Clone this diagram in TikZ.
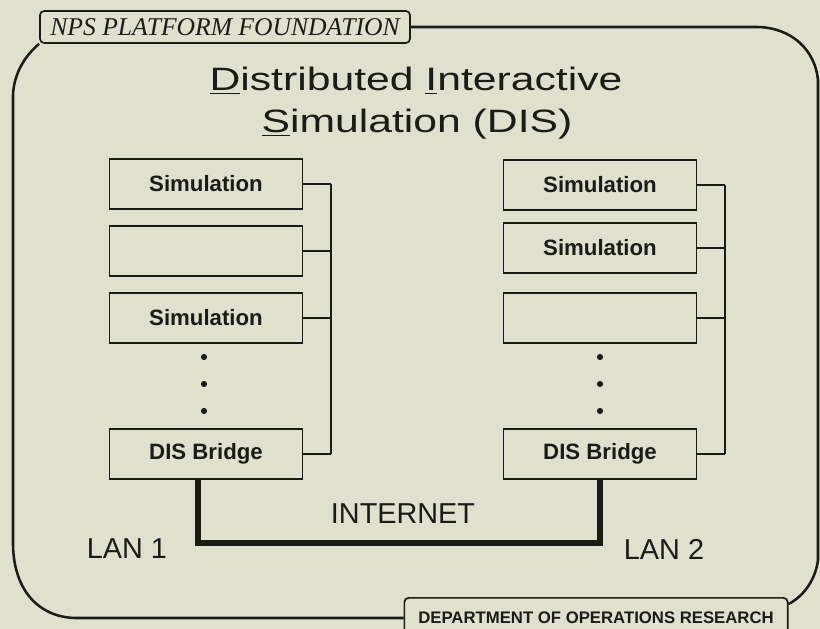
\documentclass[tikz,border=0pt]{standalone}
\usepackage{fontspec}
\setmainfont{Liberation Sans}
\newfontfamily\titlefont[FakeStretch=1.32]{Liberation Sans}
\newfontfamily\npsfont{Liberation Serif}
\definecolor{paper}{RGB}{224,224,207}
\definecolor{ink}{RGB}{28,28,22}
\tikzset{
  simbox/.style={draw, line width=1.2pt, minimum width=4.83cm, minimum height=1.25cm,
    inner sep=0pt, font=\fontsize{15.8}{18}\selectfont\bfseries},
  tag/.style={draw, line width=1.2pt, rounded corners=3pt, inner sep=0pt},
  wire/.style={line width=1.2pt},
  frame/.style={line width=1.8pt},
  net/.style={line width=3.8pt},
  big/.style={font=\fontsize{20.5}{24}\selectfont, anchor=base}
}
\begin{document}
\begin{tikzpicture}[x=0.025cm, y=-0.025cm, color=ink]

\def\xl{206}; % left column
\def\xr{600}; % right column

\fill[paper] (0,0) rectangle (820,629);
\clip (0,0) rectangle (820,629);

% labels on the frame
\node[tag, minimum width=9.25cm, minimum height=0.8cm,
  font=\npsfont\itshape\fontsize{18.2}{20}\selectfont] (nps) at (225,27) {NPS PLATFORM FOUNDATION};
\node[tag, anchor=north, minimum width=9.58cm, minimum height=1cm,
  font=\fontsize{11.9}{14}\selectfont\bfseries] (dept) at (596,597) {DEPARTMENT OF OPERATIONS RESEARCH};

% frame
\draw[frame] (nps.east) -- (758,27) .. controls (792,28) and (815,50) .. (818,80)
  -- (818,560) .. controls (815,582) and (802,597) .. ([yshift=-5pt]dept.north east);
\draw[frame] (nps.south west) .. controls (26,55) and (14,72) .. (13,95)
  -- (13,545) .. controls (14,592) and (40,617) .. (75,618) -- (dept.west |- 0,618);

% title
\node[anchor=base, font=\titlefont\fontsize{23}{27}\selectfont] (ttl1) at (416,91)
  {\underline{D}istributed \underline{I}nteractive};
\node[anchor=base, font=\titlefont\fontsize{23}{27}\selectfont] (ttl2) at (417,133)
  {\underline{S}imulation (DIS)};

% LAN 1
\node[simbox] (L1) at (\xl,184) {Simulation};
\node[simbox] (L2) at (\xl,251) {};
\node[simbox] (L3) at (\xl,318) {Simulation};
\node[simbox] (LB) at (\xl,454) {DIS Bridge};

% LAN 2
\node[simbox] (R1) at (\xr,185) {Simulation};
\node[simbox] (R2) at (\xr,248) {Simulation};
\node[simbox] (R3) at (\xr,318) {};
\node[simbox] (RB) at (\xr,454) {DIS Bridge};

\foreach \yy in {357,384,411} {
  \fill (204,\yy) circle (2.2pt);
  \fill (\xr,\yy) circle (2.2pt);
}

% buses
\coordinate (lbus) at (331,0);
\coordinate (rbus) at (725,0);
\foreach \b in {L1,L2,L3,LB} \draw[wire] (\b.east) -- (\b.east -| lbus);
\foreach \b in {R1,R2,R3,RB} \draw[wire] (\b.east) -- (\b.east -| rbus);
\draw[wire] (L1.east -| lbus) -- (LB.east -| lbus);
\draw[wire] (R1.east -| rbus) -- (RB.east -| rbus);

% internet link
\coordinate (lnet) at (198,543);
\coordinate (rnet) at (600,543);
\draw[net] (LB.south -| lnet) -- (lnet) -- (rnet) -- (RB.south -| rnet);

\node[big] (inet) at (403,523) {INTERNET};
\node[big] (lan1) at (127,558) {LAN 1};
\node[big] (lan2) at (664,559) {LAN 2};

\end{tikzpicture}
\end{document}
